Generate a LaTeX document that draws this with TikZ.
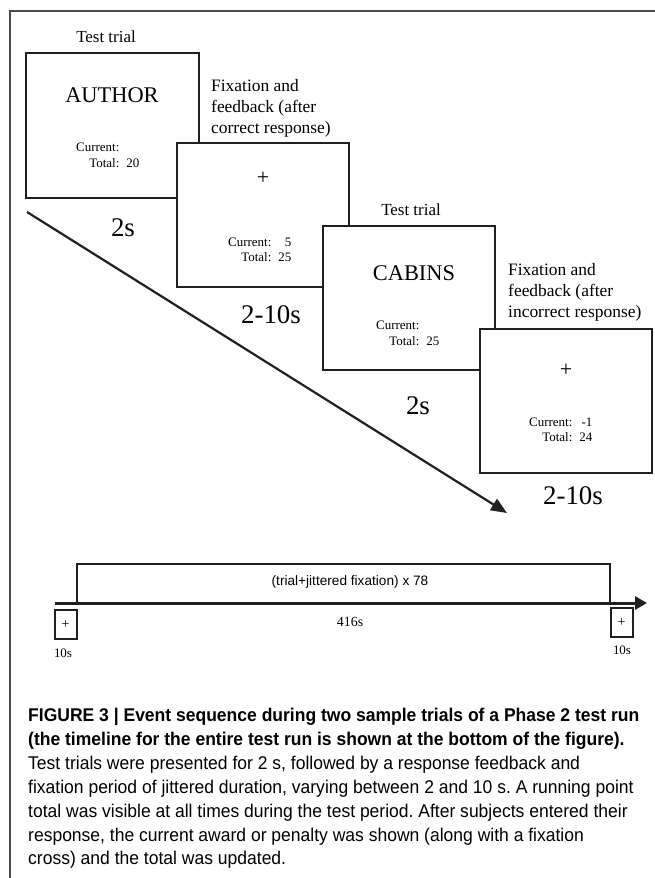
\documentclass[tikz,border=0pt]{standalone}
\usepackage{fontspec}
\setmainfont{Liberation Serif}
\newfontfamily\capsans[FakeStretch=0.95]{Liberation Sans}
\newfontfamily\tlsans{Liberation Sans}
\usetikzlibrary{arrows.meta}
\definecolor{boxc}{HTML}{231F20}
\definecolor{framec}{HTML}{4A4A4A}
\frenchspacing
\begin{document}
\begin{tikzpicture}[x=1bp,y=-1bp,
  scr/.style={draw=boxc, line width=2bp, fill=white, minimum width=172bp, minimum height=144bp, inner sep=0pt, anchor=center},
  framel/.style={draw=framec, line width=1.2bp},
  word/.style={font=\fontsize{22.5}{27}\selectfont, inner sep=0pt},
  score/.style={font=\fontsize{13}{15.5}\selectfont, inner sep=0pt, anchor=west},
  dur/.style={font=\fontsize{27}{32}\selectfont, inner sep=0pt},
  lbl/.style={font=\fontsize{17}{20}\selectfont, inner sep=0pt},
  fixlbl/.style={font=\fontsize{17.5}{21}\selectfont, align=left, inner sep=0pt, anchor=west},
  crossm/.style={font=\fontsize{22}{26}\selectfont, inner sep=0pt},
  tlbox/.style={draw=boxc, line width=2bp},
  smallbox/.style={draw=boxc, line width=2bp, minimum width=22bp, minimum height=29bp, inner sep=0pt, font=\fontsize{14}{16}\selectfont},
  small/.style={font=\fontsize{13}{15}\selectfont, inner sep=0pt},
  capl/.style={font=\capsans\fontsize{18.5}{23.8}\selectfont, anchor=base west, inner sep=0pt}
]
\useasboundingbox (0,0) rectangle (655,878);
% frame
\draw[framel] (10,878) -- (10,11) -- (655,11);

% trial 1
\node[lbl] (tt1) at (106,37) {Test trial};
\node[scr, minimum width=173bp, minimum height=145bp] (b1) at (112.5,125.5) {};
\node[word] (w1) at (112,95) {AUTHOR};
\node[score] (s1) at (76,156.5) {\begin{tabular}{@{}r@{\hspace{7bp}}r@{}}Current: & \\ Total: & 20\end{tabular}};
\node[dur] (d1) at (123,228) {2s};

% fixation 1
\node[fixlbl] (f1) at (211,108.5) {Fixation and\\feedback (after\\correct response)};
\node[scr] (b2) at (263,215) {};
\node[crossm] (c2) at (263,178) {+};
\node[score] (s2) at (228,251) {\begin{tabular}{@{}r@{\hspace{7bp}}r@{}}Current: & 5\\ Total: & 25\end{tabular}};
\node[dur] (d2) at (271,315) {2-10s};

% trial 2
\node[lbl] (tt2) at (411,210) {Test trial};
\node[scr] (b3) at (409,298) {};
\node[word] (w3) at (414,273) {CABINS};
\node[score] (s3) at (376,334.5) {\begin{tabular}{@{}r@{\hspace{7bp}}r@{}}Current: & \\ Total: & 25\end{tabular}};
\node[dur] (d3) at (418,406) {2s};

% fixation 2
\node[fixlbl] (f2) at (508,292.5) {Fixation and\\feedback (after\\incorrect response)};
\node[scr] (b4) at (566,401) {};
\node[crossm] (c4) at (566,370) {+};
\node[score] (s4) at (529,431) {\begin{tabular}{@{}r@{\hspace{7bp}}r@{}}Current: & -1\\ Total: & 24\end{tabular}};
\node[dur] (d4) at (573,496) {2-10s};

% diagonal time arrow
\coordinate (ds) at (27,212);
\coordinate (de) at (507,513);
\draw[boxc, line width=2.2bp, -{Triangle[length=16bp,width=13bp]}] (ds) -- (de);

% timeline
\node[tlbox, minimum width=533bp, minimum height=39bp, inner sep=0pt] (tb) at (343.5,583.5) {};
\node[font=\tlsans\fontsize{13.7}{16}\selectfont, inner sep=0pt] (tt) at (350,582) {(trial+jittered fixation) x 78};
\coordinate (ax0) at (55,603);
\coordinate (ax1) at (647,603);
\draw[boxc, line width=3bp, -{Triangle[length=12bp,width=13bp]}] (ax0) -- (ax1);
\node[font=\fontsize{14}{16}\selectfont, inner sep=0pt] (t416) at (350,622) {416s};
\node[smallbox] (lb) at (65.5,624.5) {+};
\node[smallbox] (rb) at (621.5,622.5) {+};
\node[small] (l10) at (63,653) {10s};
\node[small] (r10) at (622,650) {10s};

% caption
\node[capl] (cap1) at (28,721) {\bfseries FIGURE 3 | Event sequence during two sample trials of a Phase 2 test run};
\node[capl] (cap2) at (28,745) {\bfseries (the timeline for the entire test run is shown at the bottom of the figure).};
\node[capl] (cap3) at (28,769) {Test trials were presented for 2 s, followed by a response feedback and};
\node[capl] (cap4) at (28,793) {fixation period of jittered duration, varying between 2 and 10 s. A running point};
\node[capl] (cap5) at (28,817) {total was visible at all times during the test period. After subjects entered their};
\node[capl] (cap6) at (28,841) {response, the current award or penalty was shown (along with a fixation};
\node[capl] (cap7) at (28,864) {cross) and the total was updated.};
\end{tikzpicture}
\end{document}
